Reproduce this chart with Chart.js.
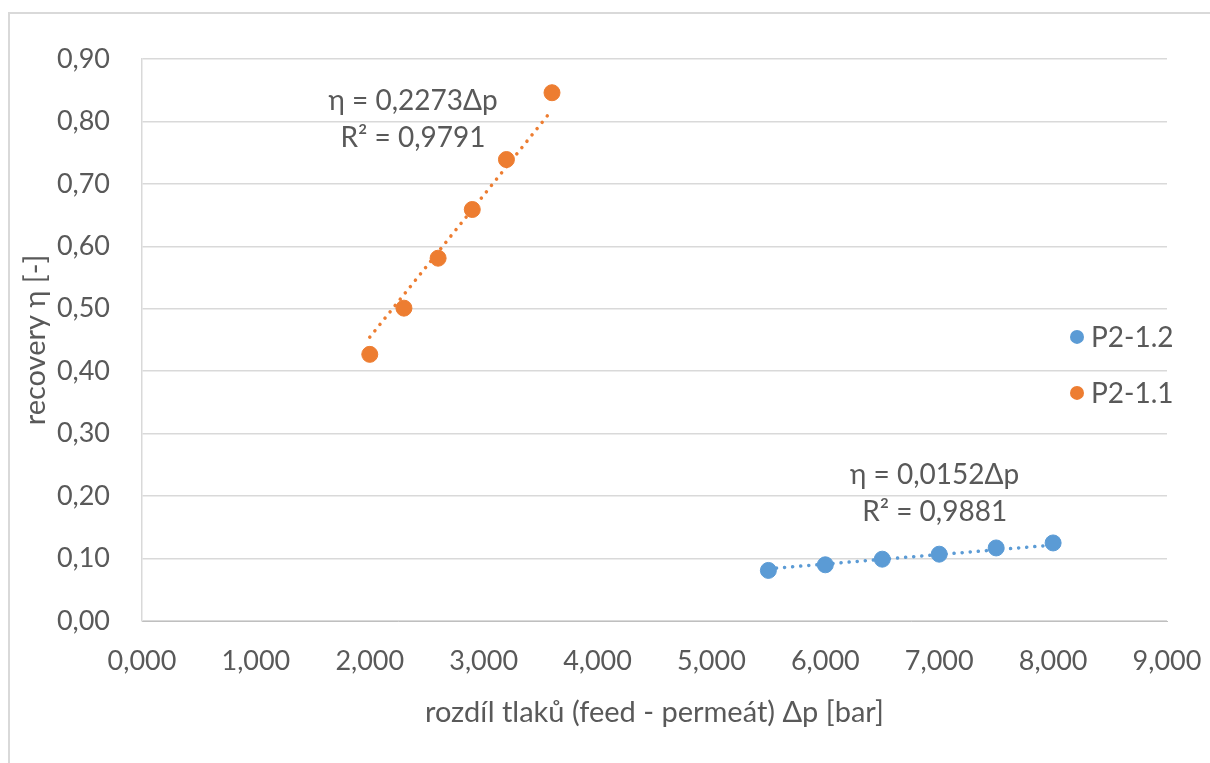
<!DOCTYPE html>
<html>
<head>
<meta charset="utf-8">
<script src="https://cdn.jsdelivr.net/npm/chart.js@4"></script>
<style>
  html, body { margin: 0; padding: 0; background: #fff; }
  #wrap { position: relative; width: 1210px; height: 763px; }
  #frame { position: absolute; left: 8px; top: 12px; right: 0; bottom: 0;
           border-left: 2px solid #d9d9d9; border-top: 2px solid #d9d9d9; }
  canvas { position: absolute; left: 0; top: 0; }
</style>
</head>
<body>
<div id="wrap">
  <div id="frame"></div>
  <canvas id="graf" width="1210" height="763"></canvas>
</div>
<script>
// P2-1.2 (modra)
const tlakP12 = [5.5, 6.0, 6.5, 7.0, 7.5, 8.0];
const recoveryP12 = [0.081, 0.090, 0.099, 0.107, 0.117, 0.125];
// P2-1.1 (oranzova)
const tlakP11 = [2.0, 2.3, 2.6, 2.9, 3.2, 3.6];
const recoveryP11 = [0.427, 0.501, 0.581, 0.659, 0.739, 0.846];

// spojnice trendu (η = k·Δp)
const smernice = { p12: 0.0152, p11: 0.2273 };
const rovnice = [
    { radky: ['η = 0,0152Δp', 'R² = 0,9881'], x: 6.96, y: 0.234 },
    { radky: ['η = 0,2273Δp', 'R² = 0,9791'], x: 2.38, y: 0.832 }
];

const xTicks = [0, 1, 2, 3, 4, 5, 6, 7, 8, 9];
const yTicks = [0, 0.1, 0.2, 0.3, 0.4, 0.5, 0.6, 0.7, 0.8, 0.9];

const modra = '#5b9bd5';
const oranzova = '#ed7d31';
const sedaText = '#595959';
const font = 'Lato, "Open Sans", sans-serif';

function body(xs, ys) {
    return xs.map((x, i) => ({ x: x, y: ys[i] }));
}
function trend(xs, k) {
    const a = Math.min(...xs), b = Math.max(...xs);
    return [{ x: a, y: k * a }, { x: b, y: k * b }];
}

const popisky = {
    id: 'popisky',
    afterDatasetsDraw(chart) {
        const ctx = chart.ctx;
        const sx = chart.scales.x, sy = chart.scales.y;
        ctx.save();
        ctx.fillStyle = sedaText;
        ctx.font = '28px ' + font;
        ctx.textAlign = 'center';
        ctx.textBaseline = 'middle';
        rovnice.forEach(r => {
            const px = sx.getPixelForValue(r.x);
            const py = sy.getPixelForValue(r.y);
            r.radky.forEach((t, i) => ctx.fillText(t, px, py + i * 37));
        });
        // legenda vpravo
        const legenda = chart.data.datasets.filter(d => d.legenda);
        const lx = chart.chartArea.right - 90;
        const ly0 = sy.getPixelForValue(0.455);
        ctx.font = '28px ' + font;
        legenda.forEach((d, i) => {
            const y = ly0 + i * 56;
            ctx.beginPath();
            ctx.fillStyle = d.backgroundColor;
            ctx.arc(lx, y, 7, 0, Math.PI * 2);
            ctx.fill();
            ctx.fillStyle = sedaText;
            ctx.textAlign = 'left';
            ctx.fillText(d.label, lx + 14, y + 1);
        });
        ctx.restore();
    }
};

new Chart(document.getElementById('graf'), {
    type: 'scatter',
    data: {
        datasets: [
            {
                label: 'P2-1.2', legenda: true,
                data: body(tlakP12, recoveryP12),
                backgroundColor: modra, borderColor: modra,
                pointRadius: 8, pointHoverRadius: 8, order: 1
            },
            {
                label: 'P2-1.1', legenda: true,
                data: body(tlakP11, recoveryP11),
                backgroundColor: oranzova, borderColor: oranzova,
                pointRadius: 8, pointHoverRadius: 8, order: 1
            },
            {
                type: 'line', label: 'trend P2-1.2',
                data: trend(tlakP12, smernice.p12),
                borderColor: modra, borderWidth: 3.5, borderDash: [0.1, 8],
                borderCapStyle: 'round', pointRadius: 0, fill: false, order: 2
            },
            {
                type: 'line', label: 'trend P2-1.1',
                data: trend(tlakP11, smernice.p11),
                borderColor: oranzova, borderWidth: 3.5, borderDash: [0.1, 8],
                borderCapStyle: 'round', pointRadius: 0, fill: false, order: 2
            }
        ]
    },
    options: {
        responsive: false,
        animation: false,
        layout: { padding: { left: 18, right: 43, top: 59, bottom: 33 } },
        plugins: { legend: { display: false }, tooltip: { enabled: false } },
        scales: {
            x: {
                type: 'linear', min: 0, max: 9,
                afterBuildTicks: s => { s.ticks = xTicks.map(v => ({ value: v })); },
                afterFit: s => { s.height = 109; s.paddingRight = 0; s.paddingLeft = 0; },
                ticks: {
                    color: sedaText, font: { family: font, size: 27 }, padding: 24,
                    callback: v => v.toFixed(3).replace('.', ',')
                },
                grid: { display: false, drawTicks: false },
                border: { display: true, color: '#bfbfbf', width: 1 },
                title: {
                    display: true, text: 'rozdíl tlaků (feed - permeát) Δp [bar]',
                    color: sedaText, font: { family: font, size: 29 }, padding: { top: 0, bottom: 0 }
                }
            },
            y: {
                type: 'linear', min: 0, max: 0.9,
                afterBuildTicks: s => { s.ticks = yTicks.map(v => ({ value: v })); },
                afterFit: s => { s.width = 124; },
                ticks: {
                    color: sedaText, font: { family: font, size: 27 }, padding: 32,
                    callback: v => v.toFixed(2).replace('.', ',')
                },
                grid: { color: '#d9d9d9', lineWidth: 1.5, drawTicks: false },
                border: { display: true, color: '#d9d9d9', width: 1.5 },
                title: {
                    display: true, text: 'recovery η [-]',
                    color: sedaText, font: { family: font, size: 29 }, padding: { top: 0, bottom: 0 }
                }
            }
        }
    },
    plugins: [popisky]
});
</script>
</body>
</html>
